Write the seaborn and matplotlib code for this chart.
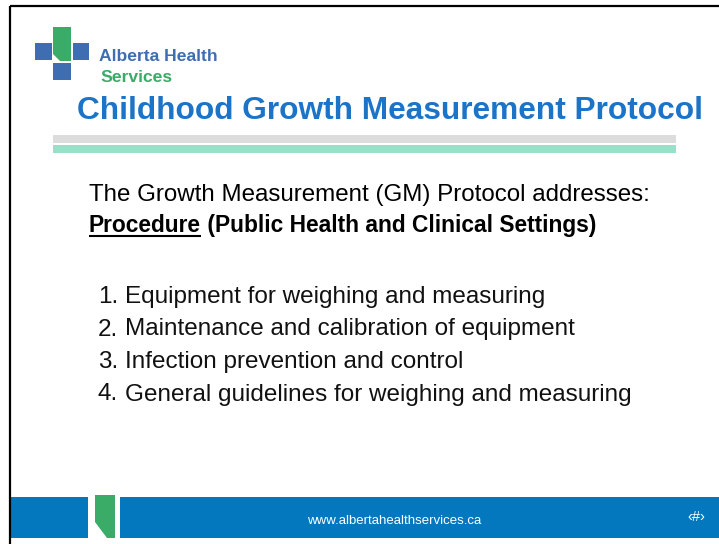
import seaborn as sns
import matplotlib.pyplot as plt
from matplotlib.patches import Rectangle, Polygon

# slide text content
title = "Childhood Growth Measurement Protocol"
intro = "The Growth Measurement (GM) Protocol addresses:"
section_head = "Procedure"
section_rest = " (Public Health and Clinical Settings)"
item_numbers = ["1.", "2.", "3.", "4."]
items = ["Equipment for weighing and measuring",
         "Maintenance and calibration of equipment",
         "Infection prevention and control",
         "General guidelines for weighing and measuring"]
footer_url = "www.albertahealthservices.ca"
page_mark = "\u2039#\u203a"

sns.set_theme(style="white")
plt.rcParams['font.family'] = ['Liberation Sans', 'DejaVu Sans']

fig = plt.figure(figsize=(7.19, 5.44), dpi=100)
ax = fig.add_axes([0, 0, 1, 1])
ax.set_xlim(0, 719)
ax.set_ylim(544, 0)
ax.axis("off")

blue_logo = "#3f6db2"
green_logo = "#3bab68"
title_blue = "#1b74c8"
footer_blue = "#0478bf"

# frame (top and left edges)
ax.plot([9.5, 719], [5.5, 5.5], color="black", lw=1.6, solid_capstyle="butt")
ax.plot([9.5, 9.5], [5.5, 544], color="black", lw=1.6, solid_capstyle="butt")

# logo
ax.add_patch(Rectangle((35, 43), 17, 17, color=blue_logo, lw=0))
ax.add_patch(Rectangle((73, 43), 16, 17, color=blue_logo, lw=0))
ax.add_patch(Rectangle((53, 63), 18, 17, color=blue_logo, lw=0))
ax.add_patch(Polygon([(53, 27), (71, 27), (71, 61), (60, 61), (53, 54)],
                     closed=True, color=green_logo, lw=0))
ax.text(99, 61, "Alberta Health", color=blue_logo, fontsize=12.6,
        fontweight="bold", va="baseline")
ax.text(100, 81.5, "Services", color=green_logo, fontsize=12.6,
        fontweight="bold", va="baseline")

# title
ax.text(77, 119, title, color=title_blue, fontsize=22.8, fontweight="bold",
        va="baseline")

# divider bars
ax.add_patch(Rectangle((53, 135), 623, 7.5, color="#dcdcdc", lw=0))
ax.add_patch(Rectangle((53, 145), 623, 8, color="#99e0c8", lw=0))

# body
ax.text(89, 201, intro, color="black", fontsize=17.4, va="baseline")
head = ax.text(89, 232, section_head, color="black", fontsize=16.4,
               fontweight="bold", va="baseline")
fig.canvas.draw()
bb = head.get_window_extent().transformed(ax.transData.inverted())
x0, x1 = bb.x0, bb.x1
ax.text(x1, 232, section_rest, color="black", fontsize=16.4,
        fontweight="bold", va="baseline")
ax.plot([x0, x1], [235.5, 235.5], color="black", lw=1.5,
        solid_capstyle="butt")

for i, (num, txt) in enumerate(zip(item_numbers, items)):
    y = 303 + i * 32.5
    ax.text(98, y, num, color="#111111", fontsize=17.5, va="baseline")
    ax.text(125, y, txt, color="#111111", fontsize=17.5, va="baseline")

# footer
ax.add_patch(Rectangle((10.5, 497), 77, 41, color=footer_blue, lw=0))
ax.add_patch(Rectangle((120, 497), 599, 41, color=footer_blue, lw=0))
ax.add_patch(Polygon([(95, 495), (115, 495), (115, 538), (107, 538), (95, 522)],
                     closed=True, color=green_logo, lw=0))
ax.text(394, 524, footer_url, color="white", fontsize=9.5, ha="center",
        va="baseline")
ax.text(696, 521, page_mark, color="white", fontsize=10.5, ha="center",
        va="baseline")

fig.savefig("out.png", dpi=100)
